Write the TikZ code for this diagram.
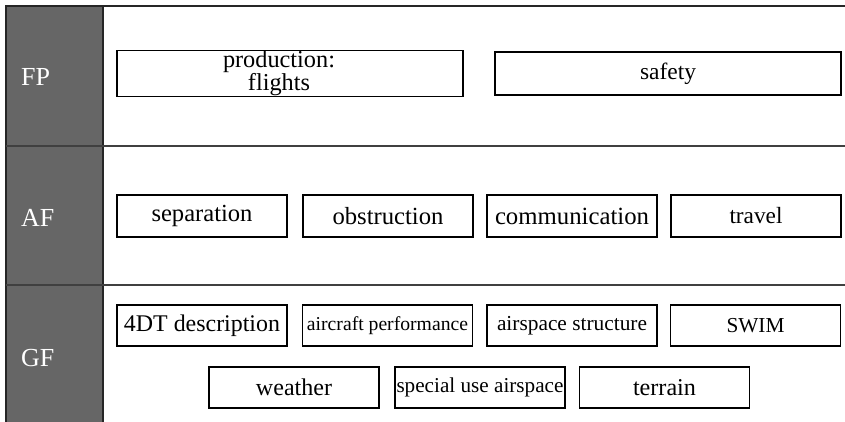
\documentclass[tikz,border=0pt]{standalone}
\usepackage{fontspec}
\setmainfont{Liberation Serif}
\usepackage{graphicx}
\newcommand\tw[2]{\resizebox{#1pt}{!}{#2}}
\begin{document}
\begin{tikzpicture}[x=1pt,y=-1pt,
  bx/.style={draw=black,line width=1.2pt,fill=white,minimum width=170pt,inner sep=0pt,text=black},
  rowlab/.style={anchor=base west,inner sep=0pt,text=white,font=\fontsize{26}{26}\selectfont},
  sep/.style={draw=black!75,line width=1.2pt}]
\useasboundingbox (0,0) rectangle (845,422);
% gray column
\fill[black!60] (6,6) rectangle (103,422);
\draw[black!85,line width=1.5pt] (6,422) -- (6,6) -- (845,6);
\draw[black!85,line width=1.5pt] (103,6) -- (103,422);
\draw[sep] (6,146) -- (845,146);
\draw[sep] (6,285) -- (845,285);
% row labels
\node[rowlab] (fp) at (21,86) {FP};
\node[rowlab] (af) at (21,226) {AF};
\node[rowlab] (gf) at (21,366) {GF};
% FP row
\node[bx,minimum width=346pt,minimum height=43pt] (prod) at (290,73.5)
  {\tw{112}{\fontsize{10}{8.3}\selectfont\begin{tabular}{@{}c@{}}production:\\flights\end{tabular}}\rule{22pt}{0pt}};
\node[bx,minimum width=346pt,minimum height=43pt] (safe) at (668,73.5) {\tw{56}{safety}};
% AF row
\node[bx,minimum height=42pt] (sepa) at (202,216) {\tw{101}{separation}};
\node[bx,minimum height=42pt] (obst) at (388,216) {\tw{111}{obstruction}};
\node[bx,minimum height=42pt] (comm) at (572,216) {\tw{154}{communication}};
\node[bx,minimum height=42pt] (trav) at (756,216) {\tw{53}{travel}};
% GF row 1
\node[bx,minimum height=41pt] (fourdt) at (202,325.5) {\tw{156}{4DT description}};
\node[bx,minimum height=41pt] (perf) at (387.5,325.5) {\tw{161}{aircraft performance}};
\node[bx,minimum height=41pt] (astr) at (572,325.5) {\tw{150}{airspace structure}};
\node[bx,minimum height=41pt] (swim) at (755.5,325.5) {\tw{58}{SWIM}};
% GF row 2
\node[bx,minimum height=41pt] (wx) at (294,387.5) {\tw{76}{weather}};
\node[bx,minimum height=41pt] (sua) at (480,387.5) {\tw{167}{special use airspace}};
\node[bx,minimum height=41pt] (terr) at (664.5,387.5) {\tw{63}{terrain}};
\end{tikzpicture}
\end{document}
